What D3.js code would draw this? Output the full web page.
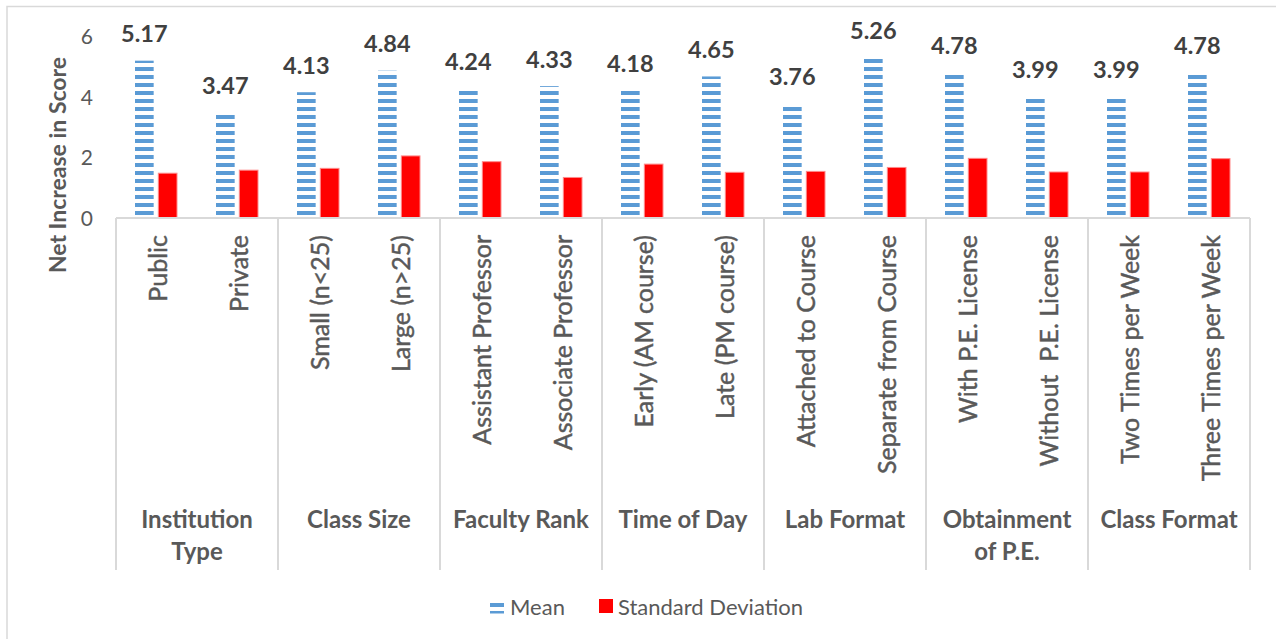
<!DOCTYPE html>
<html>
<head>
<meta charset="utf-8">
<script src="https://cdn.jsdelivr.net/npm/d3@7"></script>
<style>
  html, body { margin: 0; padding: 0; background: #fff; }
  svg { display: block; }
  text { font-family: Lato, "Open Sans", sans-serif; white-space: pre; }
</style>
</head>
<body>
<svg id="chart" width="1276" height="639"></svg>
<script>
// ---- data ----
const categories = ["Public", "Private", "Small (n<25)", "Large (n>25)",
  "Assistant Professor", "Associate Professor", "Early (AM course)", "Late (PM course)",
  "Attached to Course", "Separate from Course", "With P.E. License", "Without  P.E. License",
  "Two Times per Week", "Three Times per Week"];
const groupLabels = [["Institution", "Type"], ["Class Size"], ["Faculty Rank"], ["Time of Day"],
  ["Lab Format"], ["Obtainment", "of P.E."], ["Class Format"]];
const groupSizes = [2, 2, 2, 2, 2, 2, 2];
const meanValues = [5.17, 3.47, 4.13, 4.84, 4.24, 4.33, 4.18, 4.65, 3.76, 5.26, 4.78, 3.99, 3.99, 4.78];
const sdValues = [1.46, 1.56, 1.62, 2.03, 1.84, 1.32, 1.76, 1.49, 1.52, 1.65, 1.95, 1.50, 1.50, 1.94];
const yTicks = [0, 2, 4, 6];
const seriesNames = ["Mean", "Standard Deviation"];

// ---- layout ----
const svg = d3.select("#chart");
const gridColor = "#D9D9D9";
const textColor = "#595959";
const blue = "#5B9BD5";
const red = "#FF0000";

// chart border
svg.append("rect").attr("x", 7).attr("y", 6.5).attr("width", 1300).attr("height", 700)
  .attr("fill", "none").attr("stroke", gridColor).attr("stroke-width", 1.5);

// stripe pattern
const defs = svg.append("defs");
const pat = defs.append("pattern").attr("id", "stripes").attr("patternUnits", "userSpaceOnUse")
  .attr("x", 0).attr("y", 3).attr("width", 8).attr("height", 8);
pat.append("rect").attr("x", 0).attr("y", 0).attr("width", 8).attr("height", 4).attr("fill", blue);

const x = d3.scaleBand().domain(categories).range([116, 1250]).padding(0);
const y = d3.scaleLinear().domain([0, 6]).range([217.5, 35.5]);
const x1 = d3.scaleBand().domain(seriesNames).range([-21.5, 20.5]).paddingInner(0.2);

// y tick labels
svg.append("g").selectAll("text").data(yTicks).join("text")
  .attr("x", 93).attr("y", d => y(d)).attr("text-anchor", "end")
  .attr("dominant-baseline", "central").attr("fill", textColor)
  .attr("font-size", 21).text(d => d);

// y axis title
svg.append("text").attr("transform", `translate(57,165) rotate(-90)`)
  .attr("text-anchor", "middle").attr("dominant-baseline", "central")
  .attr("font-weight", "bold").attr("font-size", 23).attr("fill", textColor)
  .text("Net Increase in Score");

// bars
const cx = c => x(c) + x.bandwidth() / 2;
const barG = svg.append("g");
barG.selectAll("rect.mean").data(categories).join("rect").attr("class", "mean")
  .attr("x", c => cx(c) + x1("Mean"))
  .attr("width", x1.bandwidth())
  .attr("y", (c, i) => y(meanValues[i]))
  .attr("height", (c, i) => y(0) - y(meanValues[i]))
  .attr("fill", "url(#stripes)");
barG.selectAll("rect.sd").data(categories).join("rect").attr("class", "sd")
  .attr("x", c => cx(c) + x1("Standard Deviation"))
  .attr("width", x1.bandwidth())
  .attr("y", (c, i) => y(sdValues[i]))
  .attr("height", (c, i) => y(0) - y(sdValues[i]))
  .attr("fill", red).attr("stroke", "#FF8A8A").attr("stroke-width", 1);

// data labels
svg.append("g").selectAll("text").data(categories).join("text")
  .attr("x", c => cx(c) + x1("Mean") + x1.bandwidth() / 2)
  .attr("y", (c, i) => y(meanValues[i]) - 18.5)
  .attr("text-anchor", "middle").attr("font-weight", "bold").attr("font-size", 23.5)
  .attr("fill", "#404040").text((c, i) => meanValues[i].toFixed(2));

// category axis line
svg.append("line").attr("x1", 116).attr("x2", 1250).attr("y1", 218).attr("y2", 218)
  .attr("stroke", gridColor).attr("stroke-width", 2);

// group dividers
let idx = 0;
const groupStarts = [];
groupSizes.forEach(n => { groupStarts.push(idx); idx += n; });
const divX = groupStarts.map(s => x(categories[s])).concat([x.range()[1]]);
svg.append("g").selectAll("line").data(divX).join("line")
  .attr("x1", d => d).attr("x2", d => d).attr("y1", 218).attr("y2", 570)
  .attr("stroke", gridColor).attr("stroke-width", 2);

// category labels
svg.append("g").selectAll("text").data(categories).join("text")
  .attr("transform", c => `translate(${cx(c)},235) rotate(-90)`)
  .attr("text-anchor", "end").attr("dominant-baseline", "central")
  .attr("font-size", 25).attr("fill", textColor)
  .attr("stroke", textColor).attr("stroke-width", 0.45)
  .text(c => c);

// group labels
const gl = svg.append("g").selectAll("text").data(groupLabels).join("text")
  .attr("text-anchor", "middle").attr("font-weight", "bold").attr("font-size", 24)
  .attr("fill", textColor)
  .attr("transform", (g, i) => {
    const s = groupStarts[i], e = s + groupSizes[i];
    return `translate(${(x(categories[s]) + x(categories[e - 1]) + x.bandwidth()) / 2},528)`;
  });
gl.selectAll("tspan").data(d => d).join("tspan")
  .attr("x", 0).attr("dy", (d, i) => i === 0 ? 0 : 32).text(d => d);

// legend
const leg = svg.append("g");
leg.append("rect").attr("x", 490).attr("y", 599.5).attr("width", 14).attr("height", 14)
  .attr("fill", "url(#stripes)");
leg.append("text").attr("x", 510).attr("y", 606).attr("dominant-baseline", "central")
  .attr("font-size", 22).attr("fill", textColor).text(seriesNames[0]);
leg.append("rect").attr("x", 599).attr("y", 599).attr("width", 14).attr("height", 14)
  .attr("fill", red);
leg.append("text").attr("x", 618).attr("y", 606).attr("dominant-baseline", "central")
  .attr("font-size", 22).attr("fill", textColor).text(seriesNames[1]);
</script>
</body>
</html>
